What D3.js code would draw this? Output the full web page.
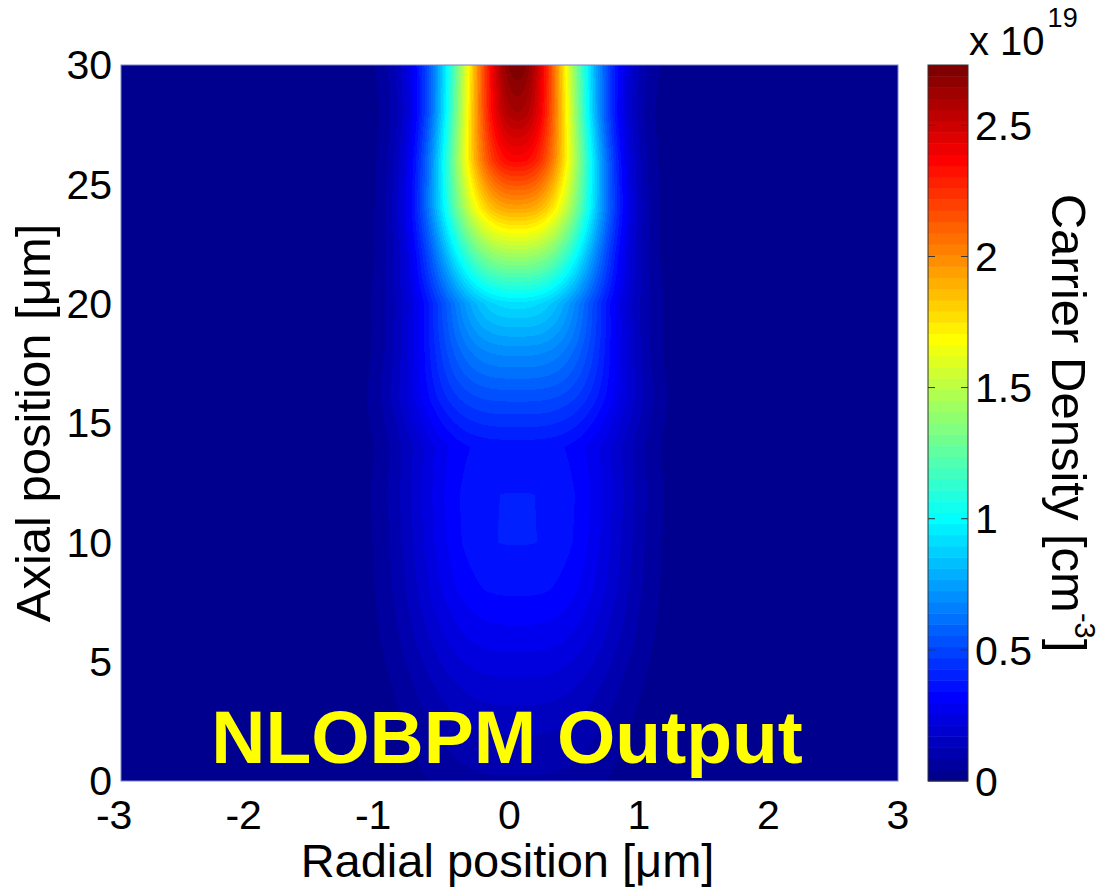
<!DOCTYPE html>
<html>
<head>
<meta charset="utf-8">
<script src="https://cdn.jsdelivr.net/npm/d3@7"></script>
<style>
  body { margin: 0; background: #fff; }
  svg { display: block; font-family: "Liberation Sans", Arial, sans-serif; }
</style>
</head>
<body>
<svg id="chart" width="1109" height="889"></svg>
<script>
// ---- data (density in 1e19 cm^-3, positions in um)
const axialZ       = [0,    2,    4,    6,    8,    10,    12,    14,   16,   18,   20,   22,   24,   26,   28,   30];
const peakDensity  = [0.08, 0.13, 0.20, 0.28, 0.35, 0.386, 0.385, 0.36, 0.52, 0.70, 0.92, 1.42, 1.93, 2.36, 2.60, 2.73];
const beamRadius   = [0.80, 0.82, 0.84, 0.86, 0.86, 0.86,  0.88,  0.88, 0.88, 0.80, 0.72, 0.68, 0.66, 0.61, 0.56, 0.54];
const profileOrder = [3.0,  3.0,  3.0,  3.0,  3.0,  3.0,   3.1,   3.3,  3.3,  3.0,  2.5,  2.6,  2.6,  2.4,  2.2,  2.0];
const beamCenter = 0.06;

const xTicks = [-3, -2, -1, 0, 1, 2, 3];
const yTicks = [0, 5, 10, 15, 20, 25, 30];
const cbTicks = [0, 0.5, 1, 1.5, 2, 2.5];
const cMax = 2.73;

// ---- layout
const plot = {left: 121, top: 65, right: 898, bottom: 781};
const cbar = {left: 928, right: 968};

const svg = d3.select('#chart');
svg.append('rect').attr('width', 1109).attr('height', 889).attr('fill', '#fff');

const x = d3.scaleLinear().domain([-3, 3]).range([plot.left, plot.right]);
const y = d3.scaleLinear().domain([0, 30]).range([plot.bottom, plot.top]);
const yc = d3.scaleLinear().domain([0, cMax]).range([plot.bottom, plot.top]);

const peakAt = d3.scaleLinear().domain(axialZ).range(peakDensity).clamp(true);
const radiusAt = d3.scaleLinear().domain(axialZ).range(beamRadius).clamp(true);
const orderAt = d3.scaleLinear().domain(axialZ).range(profileOrder).clamp(true);

// MATLAB jet(64)
function jet(m) {
  const n = Math.ceil(m / 4);
  const u = [];
  for (let i = 1; i <= n; i++) u.push(i / n);
  for (let i = 1; i < n; i++) u.push(1);
  for (let i = n; i >= 1; i--) u.push(i / n);
  const cmap = d3.range(m).map(() => [0, 0, 0]);
  const off = Math.ceil(n / 2) - (m % 4 === 1 ? 1 : 0);
  u.forEach((val, k) => {
    const g = off + k + 1, r = g + n, b = g - n;
    if (r >= 1 && r <= m) cmap[r - 1][0] = val;
    if (g >= 1 && g <= m) cmap[g - 1][1] = val;
    if (b >= 1 && b <= m) cmap[b - 1][2] = val;
  });
  return cmap.map(c => c.map(v => Math.round(v * 255)));
}
const cmap = jet(64);
const colorIndex = v => Math.max(0, Math.min(63, Math.floor(v / cMax * 64)));

// ---- heatmap drawn pixel by pixel into a canvas, placed as an svg image
const W = plot.right - plot.left, H = plot.bottom - plot.top;
const canvas = document.createElement('canvas');
canvas.width = W; canvas.height = H;
const ctx = canvas.getContext('2d');
const img = ctx.createImageData(W, H);
for (let j = 0; j < H; j++) {
  const z = y.invert(plot.top + j + 0.5);
  const P = peakAt(z), w = radiusAt(z), p = orderAt(z);
  for (let i = 0; i < W; i++) {
    const r = Math.abs(x.invert(plot.left + i + 0.5) - beamCenter);
    const v = P * Math.exp(-Math.pow(r / w, p));
    const c = cmap[colorIndex(v)];
    const o = (j * W + i) * 4;
    img.data[o] = c[0]; img.data[o + 1] = c[1]; img.data[o + 2] = c[2]; img.data[o + 3] = 255;
  }
}
ctx.putImageData(img, 0, 0);

svg.append('image')
  .attr('x', plot.left).attr('y', plot.top)
  .attr('width', W).attr('height', H)
  .attr('preserveAspectRatio', 'none')
  .attr('href', canvas.toDataURL());

svg.append('rect')
  .attr('x', plot.left).attr('y', plot.top).attr('width', W).attr('height', H)
  .attr('fill', 'none').attr('stroke', '#7b82c6').attr('stroke-width', 1);

// ---- tick labels
const tickFont = 41;
svg.append('g').selectAll('text').data(yTicks).join('text')
  .attr('x', plot.left - 9).attr('y', d => y(d)).attr('dy', '0.35em')
  .attr('text-anchor', 'end').attr('font-size', tickFont).attr('fill', '#000')
  .text(d => d);

svg.append('g').selectAll('text').data(xTicks).join('text')
  .attr('x', d => d < 0 ? x(d) + tickFont * 0.278 : x(d))
  .attr('y', 829)
  .attr('text-anchor', d => d < 0 ? 'end' : 'middle')
  .attr('font-size', tickFont).attr('fill', '#000')
  .text(d => d);

// ---- axis labels
svg.append('text')
  .attr('x', (plot.left + plot.right) / 2 - 2).attr('y', 877)
  .attr('text-anchor', 'middle').attr('font-size', 47)
  .text('Radial position [\u03bcm]');

svg.append('text')
  .attr('transform', `translate(50,${(plot.top + plot.bottom) / 2}) rotate(-90)`)
  .attr('text-anchor', 'middle').attr('font-size', 49)
  .text('Axial position [\u03bcm]');

// ---- annotation
svg.append('text')
  .attr('x', 507).attr('y', 763)
  .attr('text-anchor', 'middle').attr('font-size', 75).attr('font-weight', 'bold')
  .attr('fill', '#ffff00')
  .text('NLOBPM Output');

// ---- colorbar
const cb = svg.append('g');
cb.selectAll('rect.band').data(d3.range(64)).join('rect')
  .attr('class', 'band')
  .attr('x', cbar.left).attr('width', cbar.right - cbar.left)
  .attr('y', i => yc((i + 1) / 64 * cMax))
  .attr('height', i => yc(i / 64 * cMax) - yc((i + 1) / 64 * cMax) + 0.5)
  .attr('fill', i => `rgb(${cmap[i].join(',')})`);

cb.append('rect')
  .attr('x', cbar.left).attr('y', plot.top)
  .attr('width', cbar.right - cbar.left).attr('height', H)
  .attr('fill', 'none').attr('stroke', '#333').attr('stroke-width', 1);

cb.selectAll('path.tick').data(cbTicks.filter(d => d > 0)).join('path')
  .attr('class', 'tick')
  .attr('d', d => `M${cbar.left},${yc(d)}h7M${cbar.right},${yc(d)}h-7`)
  .attr('stroke', '#333').attr('stroke-width', 1);

cb.selectAll('text').data(cbTicks).join('text')
  .attr('x', cbar.right + 7).attr('y', d => yc(d)).attr('dy', '0.36em')
  .attr('font-size', tickFont).text(d => d);

const expo = svg.append('text').attr('x', 969).attr('y', 55).attr('font-size', 40);
expo.append('tspan').text('x 10');
expo.append('tspan').attr('font-size', 27).attr('dy', -28).attr('dx', 3).text('19');

const cbLabel = svg.append('text')
  .attr('transform', `translate(1052,${(plot.top + plot.bottom) / 2}) rotate(90)`)
  .attr('text-anchor', 'middle').attr('font-size', 49);
cbLabel.append('tspan').text('Carrier Density [cm');
cbLabel.append('tspan').attr('font-size', 29).attr('dy', -23).text('-3');
cbLabel.append('tspan').attr('dy', 23).text(']');
</script>
</body>
</html>
